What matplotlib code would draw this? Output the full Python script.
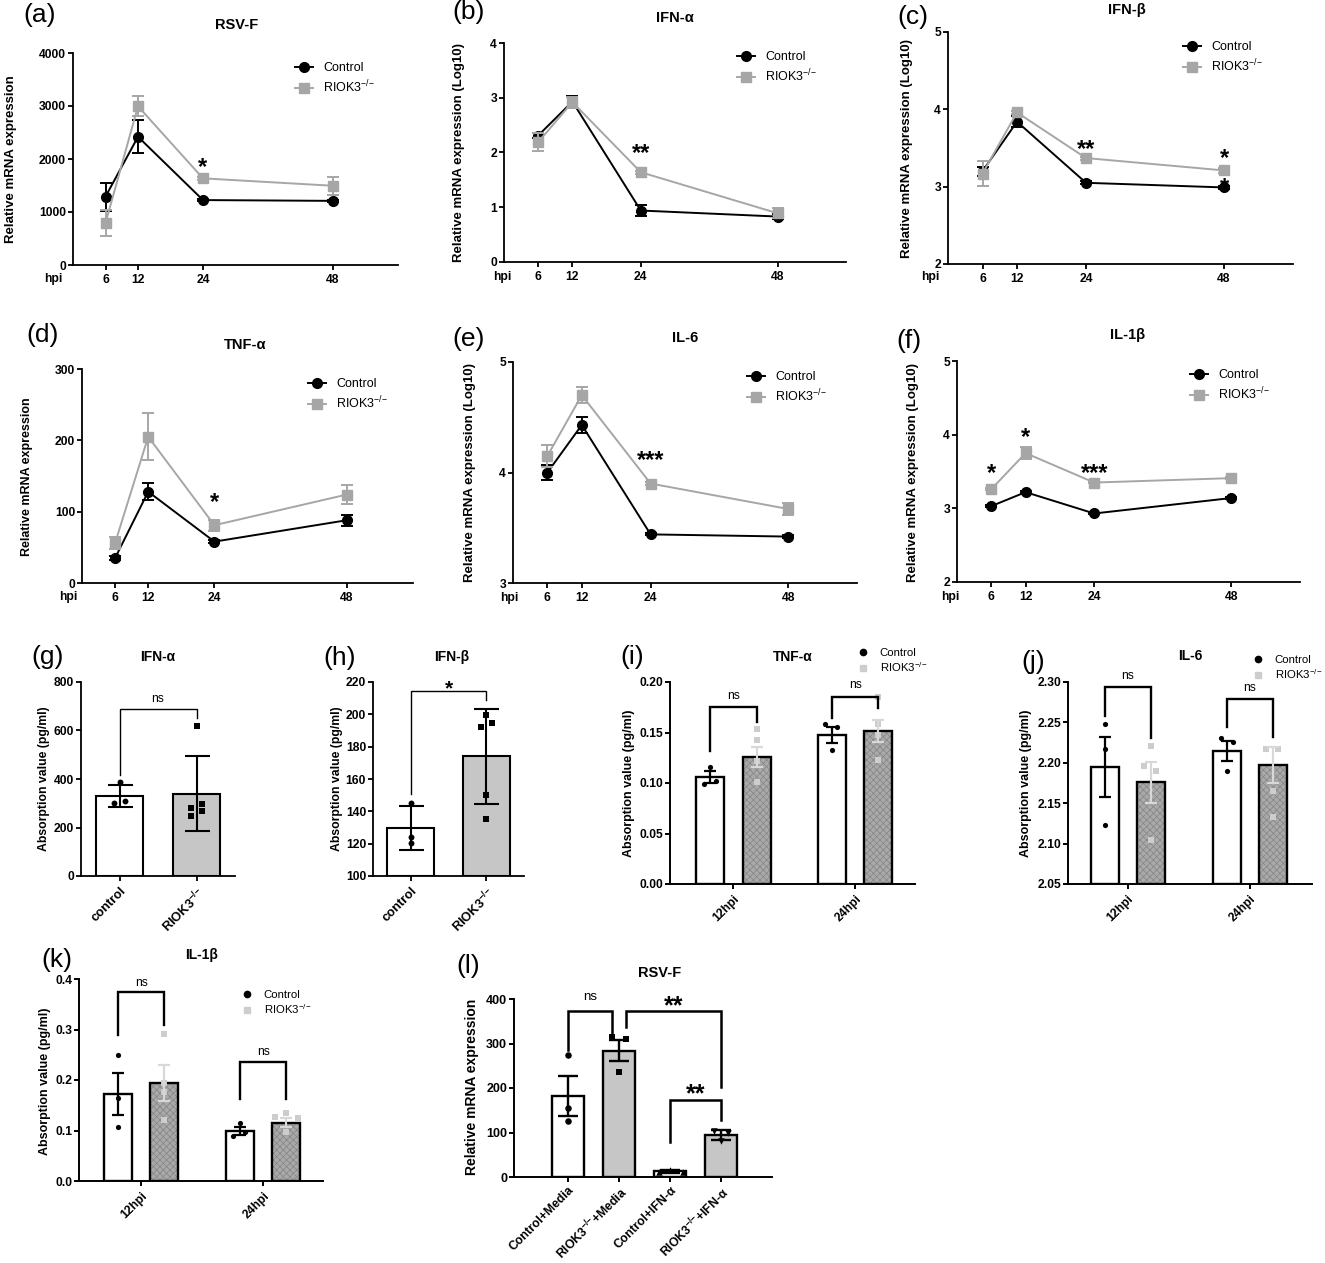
import numpy as np
import matplotlib
matplotlib.use('Agg')
import matplotlib.pyplot as plt
from matplotlib.lines import Line2D

plt.rcParams['font.family'] = ['Liberation Sans', 'DejaVu Sans']
plt.rcParams['mathtext.fontset'] = 'custom'
plt.rcParams['mathtext.rm'] = 'Liberation Sans'
plt.rcParams['mathtext.it'] = 'Liberation Sans:italic'
plt.rcParams['mathtext.bf'] = 'Liberation Sans:bold'
plt.rcParams['hatch.linewidth'] = 0.5

KO = r'RIOK3$^{-/{-}}$'
KO_B = r'RIOK3$^{\mathbf{-/{-}}}$'

# ---------------- data: qPCR time courses ----------------
hpi = [6, 12, 24, 48]

rsvf_ctrl = [1290, 2420, 1225, 1210]
rsvf_ctrl_err = [265, 310, 25, 25]
rsvf_ko = [790, 2995, 1635, 1495]
rsvf_ko_err = [250, 190, 30, 165]
rsvf_stars = [(24, 1960, '*')]

ifna_ctrl = [2.31, 2.93, 0.94, 0.83]
ifna_ctrl_err = [0.04, 0.11, 0.10, 0.05]
ifna_ko = [2.19, 2.92, 1.64, 0.89]
ifna_ko_err = [0.17, 0.10, 0.03, 0.09]
ifna_stars = [(24, 2.10, '**')]

ifnb_ctrl = [3.20, 3.84, 3.05, 2.99]
ifnb_ctrl_err = [0.06, 0.07, 0.02, 0.02]
ifnb_ko = [3.17, 3.96, 3.37, 3.21]
ifnb_ko_err = [0.16, 0.02, 0.02, 0.03]
ifnb_stars = [(24, 3.565, '**'), (48, 3.44, '*'), (48, 3.07, '*')]

tnfa_ctrl = [35, 128, 58, 88]
tnfa_ctrl_err = [3, 12, 2, 8]
tnfa_ko = [56, 205, 81, 124]
tnfa_ko_err = [8, 33, 8, 13]
tnfa_stars = [(24, 121, '*')]

il6_ctrl = [4.00, 4.43, 3.44, 3.42]
il6_ctrl_err = [0.065, 0.07, 0.01, 0.01]
il6_ko = [4.15, 4.70, 3.90, 3.67]
il6_ko_err = [0.10, 0.075, 0.012, 0.055]
il6_stars = [(24, 4.16, '***')]

il1b_ctrl = [3.03, 3.22, 2.93, 3.14]
il1b_ctrl_err = [0.01, 0.01, 0.01, 0.01]
il1b_ko = [3.26, 3.75, 3.35, 3.41]
il1b_ko_err = [0.01, 0.08, 0.01, 0.01]
il1b_stars = [(6, 3.56, '*'), (12, 4.05, '*'), (24, 3.56, '***')]

# ---------------- data: ELISA ----------------
g_groups = ['control', KO_B]
g_means = [330, 340]
g_err = [47, 155]
g_pts = [[386, 303, 308], [620, 282, 249, 296, 270]]
g_sig = [(0, 1, 689, 417, 651, 'ns', 730)]

h_groups = ['control', KO_B]
h_means = [129.5, 174.0]
h_err = [13.7, 29.5]
h_pts = [[145.4, 124.1, 120.2], [199.8, 191.9, 194.8, 149.8, 135.1]]
h_sig = [(0, 1, 214.4, 151, 209, '*', 219)]

timepoints = ['12hpi', '24hpi']

i_ctrl_means = [0.1056, 0.1472]
i_ctrl_err = [0.0060, 0.0078]
i_ko_means = [0.1257, 0.1512]
i_ko_err = [0.0095, 0.0107]
i_ctrl_pts = [[0.1155, 0.0993, 0.1023], [0.1584, 0.1551, 0.1323]]
i_ko_pts = [[0.1535, 0.1430, 0.1220, 0.1013], [0.1850, 0.1580, 0.1480, 0.1230]]
i_sig = [(0, 0.1753, 0.1313, 0.1600, 'ns', 0.1865), (1, 0.1850, 0.1643, 0.1743, 'ns', 0.1967)]

j_ctrl_means = [2.1948, 2.2146]
j_ctrl_err = [0.0376, 0.0128]
j_ko_means = [2.1762, 2.1969]
j_ko_err = [0.0254, 0.0223]
j_ctrl_pts = [[2.248, 2.217, 2.1226], [2.2311, 2.2253, 2.1894]]
j_ko_pts = [[2.2212, 2.1956, 2.1894, 2.104], [2.217, 2.217, 2.1655, 2.1325]]
j_sig = [(0, 2.2934, 2.2575, 2.2307, 'ns', 2.307), (1, 2.2794, 2.2443, 2.2315, 'ns', 2.2926)]

k_ctrl_means = [0.1726, 0.0992]
k_ctrl_err = [0.0413, 0.0082]
k_ko_means = [0.1944, 0.1157]
k_ko_err = [0.0357, 0.0083]
k_ctrl_pts = [[0.2499, 0.1653, 0.1078], [0.1144, 0.0893, 0.0979]]
k_ko_pts = [[0.2909, 0.1937, 0.1770, 0.1210], [0.1276, 0.1342, 0.1243, 0.0979]]
k_sig = [(0, 0.3735, 0.2896, 0.3094, 'ns', 0.393), (1, 0.2347, 0.1626, 0.1626, 'ns', 0.2545)]

l_groups = ['Control+Media', KO_B + '+Media', 'Control+IFN-α', KO_B + '+IFN-α']
l_means = [182.7, 284.2, 12.8, 94.0]
l_err = [45.1, 24.4, 3.0, 11.3]
l_pts = [[273.7, 154.1, 126.3], [313.5, 309.8, 236.8], [12, 15, 11], [103, 82, 98]]
l_sig = [(0, 0.87, 374, 286, 320, 'ns', 404),
         (1.13, 3, 374, 338, 203, '**', 398),
         (2, 3, 173, 79, 128, '**', 200)]

# ---------------- styling / layout ----------------
W, H = 1325, 1263
fig = plt.figure(figsize=(W / 100, H / 100), dpi=100)

GRAY_LINE = '#a6a6a6'
GRAY_BAR = '#c6c6c6'
HATCH_FACE = '#a9a9a9'
HATCH_EDGE = '#858585'
LIGHT_PT = '#cdcdcd'
LIGHT_ERR = '#d8d8d8'


def frac_rect(l, t, r, b):
    return [l / W, 1 - b / H, (r - l) / W, (b - t) / H]


def fx(x):
    return x / W


def fy(y):
    return 1 - y / H


def style_axes(ax, lw=1.3):
    for s in ('top', 'right'):
        ax.spines[s].set_visible(False)
    for s in ('left', 'bottom'):
        ax.spines[s].set_linewidth(lw)
    ax.tick_params(length=3.5, width=lw, pad=1.5, direction='out')


def set_ylab(ax, text, xy, fs):
    ax.set_ylabel(text, fontsize=fs, fontweight='bold', va='center', ha='center')
    ax.yaxis.set_label_coords(fx(xy[0]), fy(xy[1]), transform=fig.transFigure)


def panel_letter(letter, xy, fs=19):
    fig.text(fx(xy[0]), fy(xy[1]), letter, fontsize=fs, ha='center', va='center')


def title(text, xy, fs=10.5):
    fig.text(fx(xy[0]), fy(xy[1]), text, fontsize=fs, fontweight='bold', ha='center', va='center')


def put_legend(ax, handles, labels, x_px, y_px, fs, hl, htp, ls):
    ax.legend(handles, labels, loc='upper left',
              bbox_to_anchor=(fx(x_px), fy(y_px - 0.62 * fs * 1.389)),
              bbox_transform=fig.transFigure, frameon=False, borderpad=0,
              borderaxespad=0, handlelength=hl, handletextpad=htp,
              labelspacing=ls, fontsize=fs)


def star(ax, x, y, txt, fs=17, color='black'):
    ax.annotate(txt, (x, y), xytext=(0, -0.26 * fs), textcoords='offset points', ha='center',
                va='center', fontsize=fs, fontweight='bold', color=color,
                annotation_clip=False)


def fmt_labels(ticks, fmt):
    return [fmt.format(t) for t in ticks]


def line_panel(rect, letter, letter_xy, ttl, ttl_xy, ylabel, ylab_xy, hpi_xy,
               ctrl, ctrl_err, ko, ko_err, ylim, yticks, stars, leg_xy, ylab_fs=9.5):
    ax = fig.add_axes(frac_rect(*rect))
    style_axes(ax)
    ax.errorbar(hpi, ctrl, yerr=ctrl_err, color='black', marker='o', ms=7, lw=1.4,
                elinewidth=1.4, capsize=4.5, capthick=1.4, zorder=3, clip_on=False)
    ax.errorbar(hpi, ko, yerr=ko_err, color=GRAY_LINE, marker='s', ms=6.5, lw=1.4,
                elinewidth=1.4, capsize=4.5, capthick=1.4, zorder=4, clip_on=False)
    ax.set_xlim(0, 60)
    ax.set_ylim(*ylim)
    ax.set_xticks(hpi, labels=[str(h) for h in hpi], fontweight='bold', fontsize=8.7)
    ax.set_yticks(yticks, labels=fmt_labels(yticks, '{:g}'), fontweight='bold', fontsize=8.7)
    ax.tick_params(axis='x', pad=3)
    for (x, y, t) in stars:
        star(ax, x, y, t)
    hs = [Line2D([], [], color='black', marker='o', ms=7, lw=1.4),
          Line2D([], [], color=GRAY_LINE, marker='s', ms=6.5, lw=1.4)]
    put_legend(ax, hs, ['Control', KO], leg_xy[0], leg_xy[1], 9, 1.45, 0.8, 0.35)
    fig.text(fx(hpi_xy[0]), fy(hpi_xy[1]), 'hpi', fontsize=8.7, fontweight='bold',
             ha='center', va='center')
    title(ttl, ttl_xy)
    set_ylab(ax, ylabel, ylab_xy, ylab_fs)
    panel_letter(letter, letter_xy)
    return ax


REL = 'Relative mRNA expression'
RELLOG = 'Relative mRNA expression (Log10)'

line_panel((73, 53, 398, 265), '(a)', (40, 15), 'RSV-F', (237, 25), REL, (11, 159), (53, 279),
           rsvf_ctrl, rsvf_ctrl_err, rsvf_ko, rsvf_ko_err, (0, 4000), [0, 1000, 2000, 3000, 4000],
           rsvf_stars, (295, 70))
line_panel((504, 43, 846, 262), '(b)', (469, 12), 'IFN-α', (675, 18), RELLOG, (459, 152), (502, 277),
           ifna_ctrl, ifna_ctrl_err, ifna_ko, ifna_ko_err, (0, 4), [0, 1, 2, 3, 4],
           ifna_stars, (737, 59))
line_panel((948, 32, 1293, 264), '(c)', (913, 17), 'IFN-β', (1127, 10), RELLOG, (907, 148), (930, 277),
           ifnb_ctrl, ifnb_ctrl_err, ifnb_ko, ifnb_ko_err, (2, 5), [2, 3, 4, 5],
           ifnb_stars, (1183, 49))
line_panel((82, 369, 413, 583), '(d)', (43, 335), 'TNF-α', (245, 345), REL, (27, 477), (68, 597),
           tnfa_ctrl, tnfa_ctrl_err, tnfa_ko, tnfa_ko_err, (0, 300), [0, 100, 200, 300],
           tnfa_stars, (308, 386), ylab_fs=9)
line_panel((513, 362, 857, 583), '(e)', (469, 339), 'IL-6', (685, 338), RELLOG, (470, 472), (509, 598),
           il6_ctrl, il6_ctrl_err, il6_ko, il6_ko_err, (3, 5), [3, 4, 5],
           il6_stars, (747, 379))
line_panel((957, 361, 1300, 582), '(f)', (909, 341), 'IL-1β', (1128, 335), RELLOG, (913, 472), (950, 597),
           il1b_ctrl, il1b_ctrl_err, il1b_ko, il1b_ko_err, (2, 5), [2, 3, 4, 5],
           il1b_stars, (1190, 377))


# ---------------- two-bar panels (g, h) ----------------
def bracket(ax, x1, x2, y, y1, y2, txt, ty, lw, txt_fs, star_fs):
    ax.plot([x1, x1, x2, x2], [y1, y, y, y2], color='black', lw=lw, clip_on=False,
            solid_joinstyle='miter', zorder=5)
    if txt == 'ns':
        ax.text((x1 + x2) / 2, ty, txt, ha='center', va='center', fontsize=txt_fs,
                clip_on=False)
    else:
        star(ax, (x1 + x2) / 2, ty, txt, fs=star_fs)


def two_bar_panel(rect, letter, letter_xy, ttl, ttl_xy, ylab_xy, groups, means, err, pts,
                  jit, sig, ylim, yticks):
    ax = fig.add_axes(frac_rect(*rect))
    style_axes(ax)
    x = np.arange(len(means))
    base = ylim[0]
    ax.bar(x, np.array(means) - base, bottom=base, width=0.62,
           color=['white', GRAY_BAR], edgecolor='black', lw=1.5, zorder=2)
    markers = ['o', 's']
    for gi in range(len(means)):
        ax.scatter(gi + np.array(jit[gi]), pts[gi], marker=markers[gi], s=18,
                   color='black', lw=0, zorder=3, clip_on=False)
    ax.errorbar(x, means, yerr=err, fmt='none', ecolor='black', elinewidth=1.5,
                capsize=9, capthick=1.5, zorder=4)
    for (x1, x2, y, y1, y2, t, ty) in sig:
        bracket(ax, x1, x2, y, y1, y2, t, ty, 1.0, 8.7, 15)
    ax.set_xlim(-0.5, 1.5)
    ax.set_ylim(*ylim)
    ax.set_yticks(yticks, labels=fmt_labels(yticks, '{:g}'), fontweight='bold', fontsize=8.7)
    ax.set_xticks(x, labels=groups, fontweight='bold', fontsize=9.3, rotation=45,
                  ha='right', rotation_mode='anchor')
    ax.tick_params(axis='x', pad=3)
    title(ttl, ttl_xy, 10)
    set_ylab(ax, 'Absorption value (pg/ml)', ylab_xy, 8.8)
    panel_letter(letter, letter_xy)
    return ax


two_bar_panel((81, 682, 235, 876), '(g)', (48, 657), 'IFN-α', (158, 657), (44, 779),
              g_groups, g_means, g_err, g_pts, [[0, -0.07, 0.07], [0, -0.07, -0.07, 0.07, 0.07]],
              g_sig, (0, 800), [0, 200, 400, 600, 800])
two_bar_panel((373, 682, 524, 876), '(h)', (340, 658), 'IFN-β', (452, 657), (337, 779),
              h_groups, h_means, h_err, h_pts, [[0, 0, 0], [0, -0.075, 0.075, 0, 0]],
              h_sig, (100, 220), [100, 120, 140, 160, 180, 200, 220])


# ---------------- grouped panels (i, j, k) ----------------
OFF, WID = 0.19, 0.23


def grouped_panel(rect, xlim, letter, letter_xy, ttl, ttl_xy, ylab_xy, ctrl_m, ctrl_e, ko_m, ko_e,
                  ctrl_p, ko_p, ctrl_j, ko_j, sig, ylim, yticks, yfmt, leg_xy):
    ax = fig.add_axes(frac_rect(*rect))
    style_axes(ax, 1.4)
    x = np.arange(2)
    base = ylim[0]
    ax.bar(x - OFF, np.array(ctrl_m) - base, bottom=base, width=WID, color='white',
           edgecolor='black', lw=1.7, zorder=2)
    ax.bar(x + OFF, np.array(ko_m) - base, bottom=base, width=WID, color=HATCH_FACE,
           edgecolor=HATCH_EDGE, hatch='xxxxx', lw=0, zorder=2)
    ax.bar(x + OFF, np.array(ko_m) - base, bottom=base, width=WID, fill=False,
           edgecolor='black', lw=1.7, zorder=2.1)
    for gi in range(2):
        ax.scatter(gi - OFF + np.array(ctrl_j[gi]), ctrl_p[gi], marker='o', s=14,
                   color='black', lw=0, zorder=3, clip_on=False)
        ax.scatter(gi + OFF + np.array(ko_j[gi]), ko_p[gi], marker='s', s=14,
                   color=LIGHT_PT, lw=0, zorder=3, clip_on=False)
    ax.errorbar(x - OFF, ctrl_m, yerr=ctrl_e, fmt='none', ecolor='black', elinewidth=1.6,
                capsize=4.5, capthick=1.6, zorder=4)
    ax.errorbar(x + OFF, ko_m, yerr=ko_e, fmt='none', ecolor=LIGHT_ERR, elinewidth=1.6,
                capsize=4.5, capthick=1.6, zorder=4)
    for (gi, y, y1, y2, t, ty) in sig:
        bracket(ax, gi - OFF, gi + OFF, y, y1, y2, t, ty, 1.7, 8.7, 15)
    ax.set_xlim(*xlim)
    ax.set_ylim(*ylim)
    ax.set_yticks(yticks, labels=fmt_labels(yticks, yfmt), fontweight='bold', fontsize=8.7)
    ax.set_xticks(x, labels=timepoints, fontweight='bold', fontsize=8.7, rotation=45,
                  ha='right', rotation_mode='anchor')
    ax.tick_params(axis='x', pad=3)
    hs = [Line2D([], [], color='black', marker='o', ms=4.5, ls='none'),
          Line2D([], [], color=LIGHT_PT, marker='s', ms=4.5, ls='none')]
    put_legend(ax, hs, ['Control', KO], leg_xy[0] - 6, leg_xy[1], 8.2, 1.0, 1.0, 0.2)
    title(ttl, ttl_xy, 10)
    set_ylab(ax, 'Absorption value (pg/ml)', ylab_xy, 9)
    panel_letter(letter, letter_xy)
    return ax


grouped_panel((670, 682, 915, 884), (-0.52, 1.49), '(i)', (632, 657), 'TNF-α', (793, 657), (629, 783),
              i_ctrl_means, i_ctrl_err, i_ko_means, i_ko_err, i_ctrl_pts, i_ko_pts,
              [[0, -0.05, 0.05], [-0.055, 0.04, 0]], [[0, 0, 0, 0], [0, 0, 0, 0]],
              i_sig, (0, 0.20), [0, 0.05, 0.10, 0.15, 0.20], '{:.2f}', (863, 655))
grouped_panel((1068, 682, 1312, 884), (-0.49, 1.51), '(j)', (1033, 662), 'IL-6', (1190, 656), (1026, 783),
              j_ctrl_means, j_ctrl_err, j_ko_means, j_ko_err, j_ctrl_pts, j_ko_pts,
              [[0, 0, 0], [-0.046, 0.05, 0]], [[0, -0.055, 0.04, 0], [-0.055, 0.04, 0, 0]],
              j_sig, (2.05, 2.30), [2.05, 2.10, 2.15, 2.20, 2.25, 2.30], '{:.2f}', (1258, 662))
grouped_panel((79, 979, 323, 1181), (-0.51, 1.49), '(k)', (57, 960), 'IL-1β', (202, 955), (45, 1081),
              k_ctrl_means, k_ctrl_err, k_ko_means, k_ko_err, k_ctrl_pts, k_ko_pts,
              [[0, 0, 0], [0, -0.055, 0.04]], [[0, 0, 0, 0], [-0.095, 0, 0.095, 0]],
              k_sig, (0, 0.4), [0, 0.1, 0.2, 0.3, 0.4], '{:.1f}', (247, 997))

# ---------------- panel l ----------------
ax = fig.add_axes(frac_rect(514, 999, 772, 1177))
style_axes(ax, 1.4)
xl = np.arange(len(l_means))
ax.bar(xl, l_means, width=0.63, color=['white', GRAY_BAR, 'white', GRAY_BAR],
       edgecolor='black', lw=1.7, zorder=2)
l_markers = ['o', 's', '^', 'v']
l_jit = [[0, 0, 0], [-0.13, 0.13, 0], [-0.22, 0, 0.25], [-0.13, 0, 0.13]]
for gi in range(len(l_means)):
    ax.scatter(gi + np.array(l_jit[gi]), l_pts[gi], marker=l_markers[gi], s=22,
               color='black', lw=0, zorder=3)
ax.errorbar(xl, l_means, yerr=l_err, fmt='none', ecolor='black', elinewidth=1.7,
            capsize=7.5, capthick=1.7, zorder=4)
for (x1, x2, y, y1, y2, t, ty) in l_sig:
    bracket(ax, x1, x2, y, y1, y2, t, ty, 1.8, 9.5, 18)
ax.set_xlim(-1.06, 4.0)
ax.set_ylim(0, 400)
ax.set_yticks([0, 100, 200, 300, 400], labels=['0', '100', '200', '300', '400'],
              fontweight='bold', fontsize=9)
ax.set_xticks(xl, labels=l_groups, fontweight='bold', fontsize=8.8, rotation=45,
              ha='right', rotation_mode='anchor')
ax.tick_params(axis='x', pad=1.5)
title('RSV-F', (660, 973), 10.5)
set_ylab(ax, REL, (472, 1087), 10)
panel_letter('(l)', (468, 966))

fig.savefig('out.png', dpi=100)
